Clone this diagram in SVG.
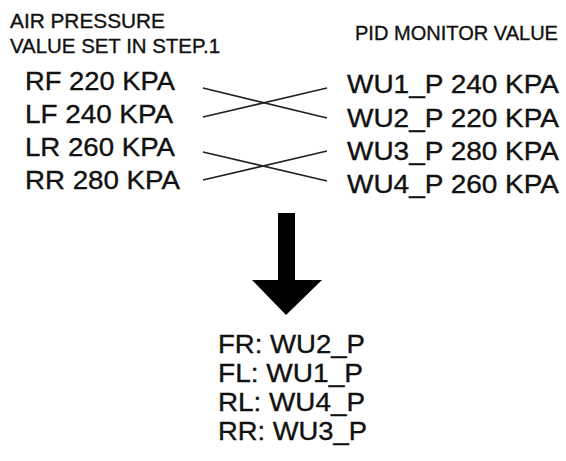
<svg xmlns="http://www.w3.org/2000/svg" width="566" height="461" viewBox="0 0 566 461">
<style>
text { font-family: "Liberation Sans", Arial, sans-serif; fill: #111; stroke: #111; stroke-width: 0.35; }
.h { font-size: 20px; }
.v { font-size: 25px; }
.c { stroke: #222; stroke-width: 1.6; fill: none; }
</style>
<rect width="566" height="461" fill="#fff"/>
<g id="header-left">
<text class="h" x="10" y="28" textLength="155" lengthAdjust="spacingAndGlyphs">AIR PRESSURE</text>
<text class="h" x="10" y="53" textLength="210" lengthAdjust="spacingAndGlyphs">VALUE SET IN STEP.1</text>
</g>
<g id="header-right">
<text class="h" x="355" y="40" textLength="203" lengthAdjust="spacingAndGlyphs">PID MONITOR VALUE</text>
</g>
<g id="left-values">
<text class="v" x="25" y="90" textLength="150" lengthAdjust="spacingAndGlyphs">RF 220 KPA</text>
<text class="v" x="25" y="123" textLength="148" lengthAdjust="spacingAndGlyphs">LF 240 KPA</text>
<text class="v" x="25" y="156" textLength="150" lengthAdjust="spacingAndGlyphs">LR 260 KPA</text>
<text class="v" x="25" y="189" textLength="155" lengthAdjust="spacingAndGlyphs">RR 280 KPA</text>
</g>
<g id="right-values">
<text class="v" x="347" y="93" textLength="212" lengthAdjust="spacingAndGlyphs">WU1_P 240 KPA</text>
<text class="v" x="347" y="127" textLength="212" lengthAdjust="spacingAndGlyphs">WU2_P 220 KPA</text>
<text class="v" x="347" y="160" textLength="212" lengthAdjust="spacingAndGlyphs">WU3_P 280 KPA</text>
<text class="v" x="347" y="193" textLength="212" lengthAdjust="spacingAndGlyphs">WU4_P 260 KPA</text>
</g>
<g id="connectors">
<line class="c" x1="203" y1="88" x2="327" y2="118"/>
<line class="c" x1="203" y1="117" x2="327" y2="88"/>
<line class="c" x1="203" y1="152" x2="327" y2="181"/>
<line class="c" x1="203" y1="180" x2="327" y2="151"/>
</g>
<g id="arrow">
<polygon points="278,213 295,213 295,280 322,280 286,315 252,280 278,280" fill="#000"/>
</g>
<g id="result">
<text class="v" x="218" y="353" textLength="147" lengthAdjust="spacingAndGlyphs">FR: WU2_P</text>
<text class="v" x="218" y="382" textLength="145" lengthAdjust="spacingAndGlyphs">FL: WU1_P</text>
<text class="v" x="218" y="411" textLength="147" lengthAdjust="spacingAndGlyphs">RL: WU4_P</text>
<text class="v" x="218" y="440" textLength="149" lengthAdjust="spacingAndGlyphs">RR: WU3_P</text>
</g>
</svg>
